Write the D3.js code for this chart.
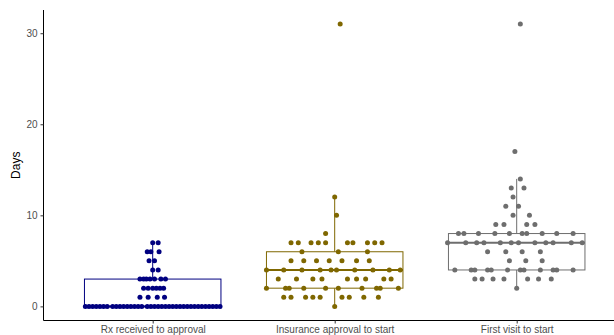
<!DOCTYPE html>
<html>
<head>
<meta charset="utf-8">
<script src="https://cdn.jsdelivr.net/npm/d3@7"></script>
<style>
  body { margin: 0; background: #fff; }
  svg { display: block; font-family: Arial, "Liberation Sans", sans-serif; }
</style>
</head>
<body>
<svg id="plot" width="614" height="335"></svg>
<script>
// categories + colours
const categories = ["Rx received to approval", "Insurance approval to start", "First visit to start"];
const colors = ["#000080", "#7f6700", "#6e6e6e"];
const yTicks = [0, 10, 20, 30];

// box stats: [lower whisker, q1, median, q3, upper whisker]
const boxStats = [
  [0, 0, 0, 3, 7],
  [0, 2, 4, 6, 12],
  [2, 4, 7, 8, 14]
];

// dots: [day, horizontal jitter offsets (category units)]
const rxDots = [
  [0, [-0.37, -0.35, -0.33, -0.31, -0.29, -0.27, -0.25, -0.22, -0.2, -0.18, -0.16, -0.14, -0.12, -0.1, -0.08, -0.06, -0.03, -0.01,
       0.01, 0.03, 0.05, 0.07, 0.09, 0.11, 0.13, 0.15, 0.17, 0.19, 0.21, 0.23, 0.25, 0.27, 0.29, 0.31, 0.33, 0.35, 0.37]],
  [1, [-0.07, -0.025, 0.025, 0.065]],
  [2, [-0.05, -0.025, 0, 0.02, 0.04, 0.06]],
  [3, [-0.07, -0.05, -0.035, -0.015, 0.01, 0.045, 0.07]],
  [4, [0, 0.03]],
  [5, [-0.02, 0.01]],
  [6, [-0.03, -0.01, 0.035]],
  [7, [0, 0.03]]
];
const insuranceDots = [
  [0, [0]],
  [1, [-0.28, -0.24, -0.16, -0.12, -0.08, 0.04, 0.08, 0.16, 0.24]],
  [2, [-0.375, -0.27, -0.25, -0.17, -0.05, 0.02, 0.15, 0.23, 0.25, 0.35]],
  [3, [-0.31, -0.21, -0.12, -0.07, 0.07, 0.12, 0.17, 0.27, 0.31]],
  [4, [-0.375, -0.28, -0.18, -0.08, -0.02, 0.01, 0.11, 0.21, 0.3, 0.36]],
  [5, [-0.24, -0.17, -0.1, -0.03, 0.04, 0.12, 0.19]],
  [6, [-0.18, 0.02, 0.18]],
  [7, [-0.24, -0.2, -0.13, -0.09, -0.05, 0.07, 0.1, 0.18, 0.22, 0.26]],
  [8, [-0.05]],
  [10, [0.01]],
  [12, [0]],
  [31, [0.03]]
];
const firstVisitDots = [
  [2, [0]],
  [3, [-0.23, -0.19, -0.13, -0.07, 0.06, 0.12, 0.19]],
  [4, [-0.34, -0.25, -0.23, -0.16, -0.14, -0.05, 0.02, 0.04, 0.13, 0.2, 0.22, 0.31]],
  [5, [-0.04, 0.05, 0.14]],
  [6, [-0.16, -0.06, 0.03, 0.13]],
  [7, [-0.38, -0.28, -0.22, -0.18, -0.09, -0.03, 0.01, 0.1, 0.16, 0.2, 0.3, 0.36]],
  [8, [-0.32, -0.29, -0.21, -0.12, -0.04, 0.03, 0.055, 0.14, 0.22, 0.31]],
  [9, [-0.115, -0.07, 0.055, 0.1]],
  [10, [-0.02, 0.07]],
  [11, [-0.06, 0.01]],
  [12, [-0.02]],
  [13, [-0.03, 0.04]],
  [14, [0.02]],
  [17, [-0.01]],
  [31, [0.02]]
];
const dotGroups = [rxDots, insuranceDots, firstVisitDots];

const svg = d3.select("#plot");
const plotLeft = 43.5, plotBottom = 320.5, plotTop = 10;
const boxHalf = 0.375, dotR = 2.5;

const x = d3.scaleLinear().domain([0.4, 3.6]).range([plotLeft, plotLeft + 3.2 * 182]);
const y = d3.scaleLinear().domain([-1.55, 32.55]).range([plotBottom, plotTop]);

// boxes
categories.forEach((cat, i) => {
  const [lo, q1, med, q3, hi] = boxStats[i];
  const cx = i + 1;
  const g = svg.append("g").attr("stroke", colors[i]).attr("fill", "none");
  g.append("line").attr("x1", x(cx)).attr("x2", x(cx)).attr("y1", y(q3)).attr("y2", y(hi)).attr("stroke-width", 1);
  g.append("line").attr("x1", x(cx)).attr("x2", x(cx)).attr("y1", y(q1)).attr("y2", y(lo)).attr("stroke-width", 1);
  g.append("rect")
    .attr("x", x(cx - boxHalf)).attr("width", x(cx + boxHalf) - x(cx - boxHalf))
    .attr("y", y(q3)).attr("height", y(q1) - y(q3))
    .attr("fill", "#fff").attr("stroke-width", 1);
  g.append("line").attr("x1", x(cx - boxHalf)).attr("x2", x(cx + boxHalf))
    .attr("y1", y(med)).attr("y2", y(med)).attr("stroke-width", 2);
});

// dots
dotGroups.forEach((rows, i) => {
  const pts = [];
  rows.forEach(([day, offs]) => offs.forEach(o => pts.push({ day, o })));
  svg.append("g").selectAll("circle")
    .data(pts)
    .join("circle")
      .attr("cx", d => x(i + 1 + d.o))
      .attr("cy", d => y(d.day))
      .attr("r", dotR)
      .attr("fill", colors[i]);
});

// y axis
const yAxis = svg.append("g")
  .attr("transform", `translate(${plotLeft},0)`)
  .call(d3.axisLeft(y).tickValues(yTicks).tickSize(3).tickPadding(3));
yAxis.select(".domain").attr("d", `M0,${plotBottom}V${plotTop}`).attr("stroke", "#000").attr("stroke-width", 1);
yAxis.selectAll(".tick line").attr("stroke", "#333");
yAxis.selectAll(".tick text").attr("fill", "#4d4d4d").style("font-size", "10px");

// x axis
const xAxis = svg.append("g")
  .attr("transform", `translate(0,${plotBottom})`)
  .call(d3.axisBottom(x).tickValues([1, 2, 3]).tickFormat(d => categories[d - 1]).tickSize(3).tickPadding(2));
xAxis.select(".domain").attr("d", `M${plotLeft},0H614`).attr("stroke", "#000").attr("stroke-width", 1);
xAxis.selectAll(".tick line").attr("stroke", "#333");
xAxis.selectAll(".tick text").attr("fill", "#4d4d4d").style("font-size", "10px");

// y title
svg.append("text")
  .attr("transform", `translate(20,${(plotTop + plotBottom) / 2}) rotate(-90)`)
  .attr("text-anchor", "middle")
  .style("font-size", "12px")
  .attr("fill", "#000")
  .text("Days");
</script>
</body>
</html>
